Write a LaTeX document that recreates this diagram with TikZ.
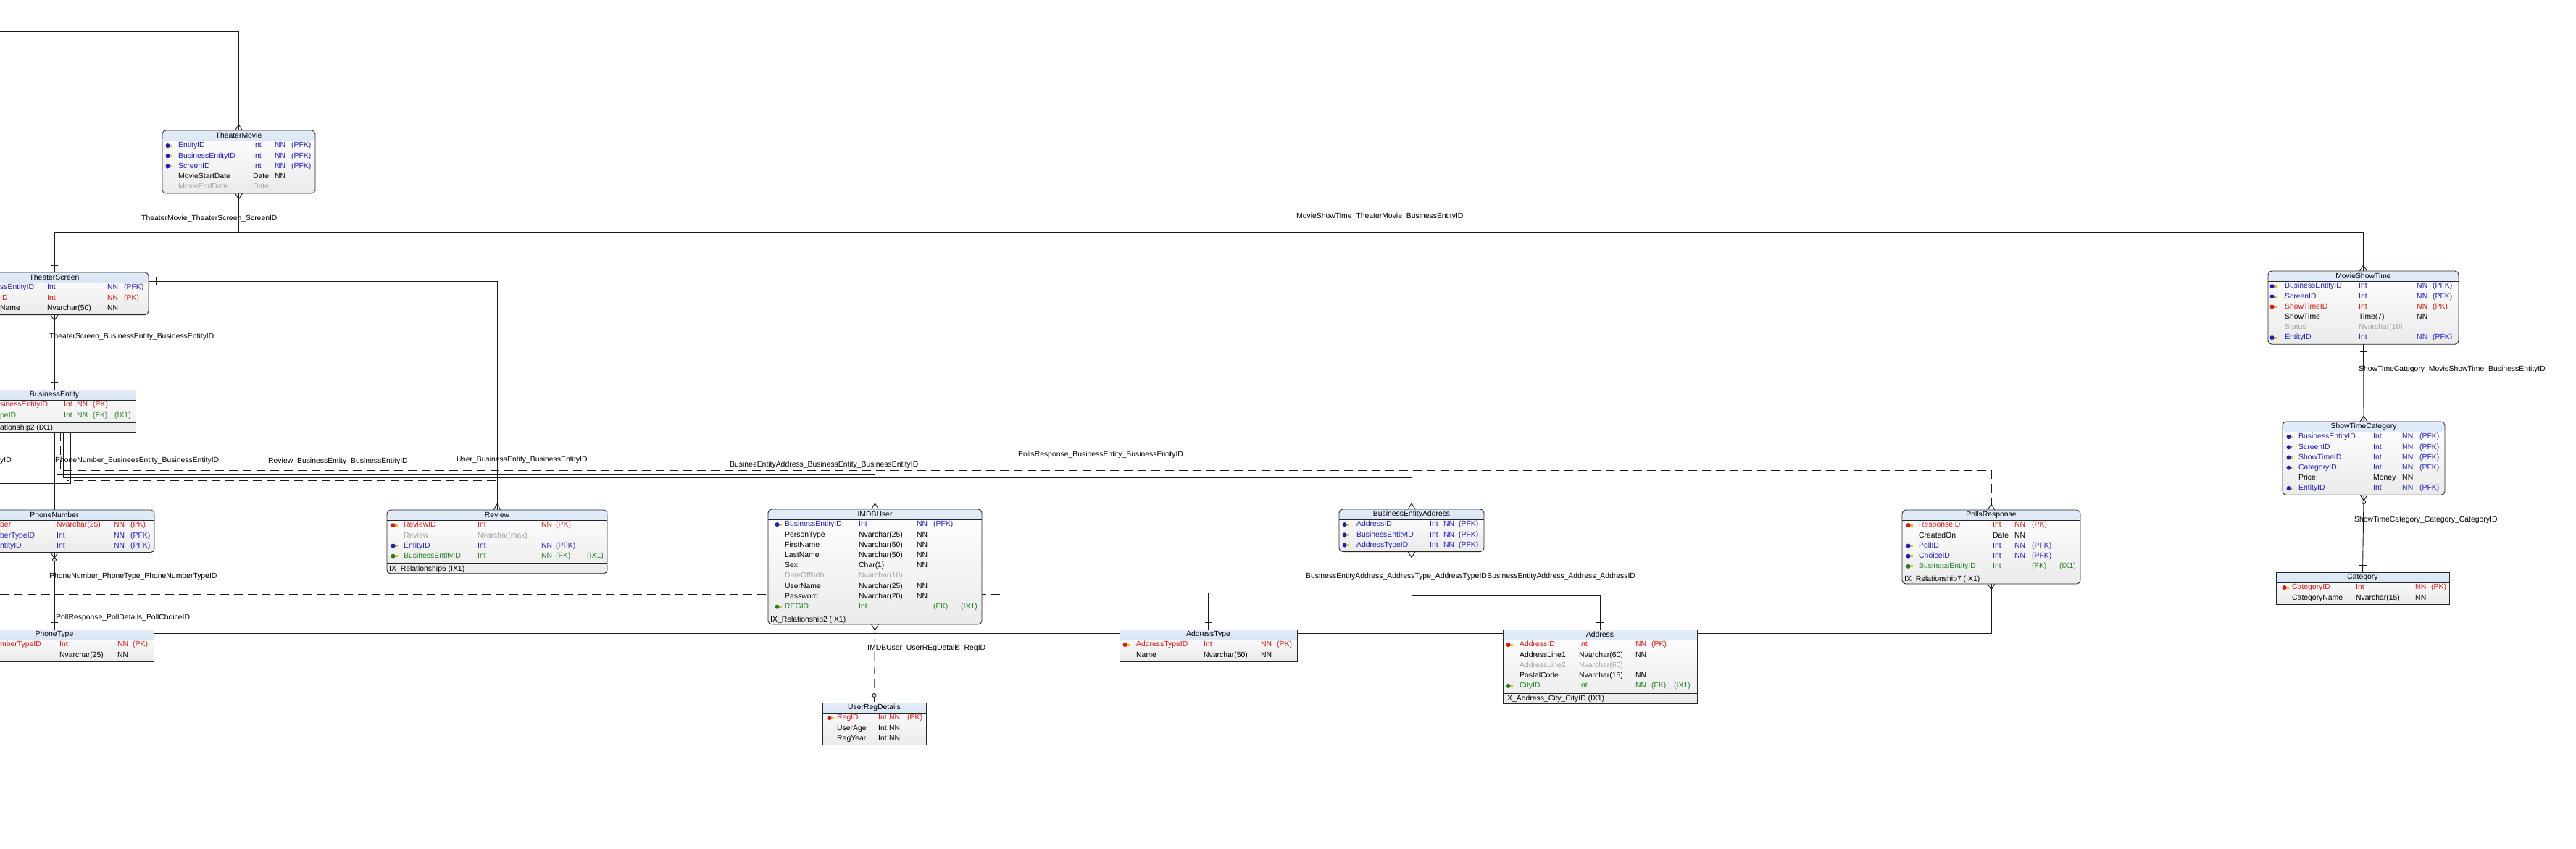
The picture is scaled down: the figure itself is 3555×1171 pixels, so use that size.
\documentclass[tikz,border=0pt]{standalone}
\usepackage{fontspec}
\setmainfont{Liberation Sans}
\usetikzlibrary{calc}
\definecolor{pkred}{RGB}{226,20,20}
\definecolor{fkblue}{RGB}{30,30,200}
\definecolor{fkgreen}{RGB}{30,130,30}
\definecolor{optgray}{RGB}{165,165,165}
\definecolor{titletop}{RGB}{226,236,248}
\definecolor{titlebot}{RGB}{190,212,238}
\definecolor{keygold}{RGB}{232,192,40}
\pgfdeclarelayer{paper}
\pgfdeclarelayer{lines}
\pgfsetlayers{paper,lines,main}
\def\TitleH{14}
\def\RowH{14.2}
\def\FontSz{\fontsize{10.4}{12}\selectfont}

\tikzset{
  erframe/.style={draw=black!85, line width=0.9pt, inner sep=0, outer sep=0,
    top color=white, bottom color=black!8,
    path picture={
      \shade[top color=titletop, bottom color=titlebot]
        (path picture bounding box.north west) rectangle
        ([yshift=-\TitleH pt]path picture bounding box.north east);
      \draw[black!85, line width=0.8pt]
        ([yshift=-\TitleH pt]path picture bounding box.north west) --
        ([yshift=-\TitleH pt]path picture bounding box.north east);}},
  titletext/.style={inner sep=0, font=\FontSz},
  cell/.style={anchor=west, inner sep=0, text height=7.5pt, text depth=2pt, font=\FontSz},
  rel/.style={line width=0.9pt, black!90},
  reldash/.style={rel, dash pattern=on 12pt off 7pt},
  rellabel/.style={anchor=west, inner sep=0, text height=7.5pt, text depth=2pt, font=\FontSz},
  crow/.pic={\draw[rel] (-5,0) -- (0,8) -- (5,0);},
  onebar/.pic={\draw[rel] (-5,10) -- (5,10);},
  zero/.pic={\draw[line width=0.6pt, fill=titlebot] (0,10) circle (2.6);},
  keyicon/.pic={\fill[keygold] (3,-1.5) rectangle (9,1.5);
    \fill[#1] (2.5,0) circle (3);},
}

% table frame: style, name, left, top, right, rows, index line, title
\newcommand{\erbox}[8]{%
  \pgfmathsetmacro\erH{\TitleH+#6*\RowH+2+#7*15}%
  \pgfmathsetmacro\erW{#5-#3}%
  \node[erframe, #1, minimum width=\erW pt, minimum height=\erH pt, anchor=north west] (#2) at (#3,#4) {};%
  \node[titletext] at ($(#2.north)+(0,7)$) {#8};%
  \ifnum#7=1
    \pgfmathsetmacro\erSep{#4+\TitleH+#6*\RowH+3}%
    \draw[line width=0.8pt, black!85] (#3,\erSep) -- (#5,\erSep);%
  \fi
}
% table rows: top, icon x, name x, type x, nn x, key x, ix x, rows
\newcommand{\errows}[8]{%
  \foreach \rc/\rk/\rn/\rt/\rnn/\rkey/\rix [count=\ri] in {#8}{
    \pgfmathsetmacro\ry{#1+\TitleH+7.1+(\ri-1)*\RowH}
    \ifnum\rk=1 \pic at (#2,\ry) {keyicon=\rc}; \fi
    \node[cell, text=\rc] at (#3,\ry) {\rn};
    \node[cell, text=\rc] at (#4,\ry) {\rt};
    \node[cell, text=\rc] at (#5,\ry) {\rnn};
    \node[cell, text=\rc] at (#6,\ry) {\rkey};
    \node[cell, text=\rc] at (#7,\ry) {\rix};
  }
}
% index line text: x, top, rows, text
\newcommand{\erindex}[4]{%
  \pgfmathsetmacro\ry{#2+\TitleH+#3*\RowH+3+7.5}%
  \node[cell] at (#1,\ry) {#4};%
}

\begin{document}
\begin{tikzpicture}[x=1pt,y=-1pt]
  \useasboundingbox (0,0) rectangle (3555,1171);
  \begin{pgfonlayer}{paper}
    \fill[white] (0,0) rectangle (3555,1171);
  \end{pgfonlayer}
  \clip (0,0) rectangle (3555,1171);

  % tables
  \erbox{rounded corners=5pt}{TheaterMovie}{224}{180}{435}{5}{0}{TheaterMovie}
  \errows{180}{229}{246}{349}{379}{402}{420}{
    fkblue/1/EntityID/Int/NN/(PFK)/{},
    fkblue/1/BusinessEntityID/Int/NN/(PFK)/{},
    fkblue/1/ScreenID/Int/NN/(PFK)/{},
    black/0/MovieStartDate/Date/NN/{}/{},
    optgray/0/MovieEndDate/Date/{}/{}/{}}

  \erbox{rounded corners=5pt}{TheaterScreen}{-55}{376}{205}{3}{0}{TheaterScreen}
  \errows{376}{0}{0}{65}{148}{171}{190}{
    fkblue/0/ssEntityID/Int/NN/(PFK)/{},
    pkred/0/ID/Int/NN/(PK)/{},
    black/0/Name/Nvarchar(50)/NN/{}/{}}

  \erbox{}{BusinessEntity}{-37}{538}{187}{2}{1}{BusinessEntity}
  \errows{538}{0}{0}{88}{106}{128}{158}{
    pkred/0/sinessEntityID/Int/NN/(PK)/{},
    fkgreen/0/peID/Int/NN/(FK)/(IX1)}
  \erindex{0}{538}{2}{ationship2 (IX1)}

  \erbox{rounded corners=5pt}{PhoneNumber}{-63}{704}{213}{3}{0}{PhoneNumber}
  \errows{704}{0}{0}{78}{157}{180}{200}{
    pkred/0/ber/Nvarchar(25)/NN/(PK)/{},
    fkblue/0/berTypeID/Int/NN/(PFK)/{},
    fkblue/0/ntityID/Int/NN/(PFK)/{}}

  \erbox{}{PhoneType}{-62}{869}{212}{2}{0}{PhoneType}
  \errows{869}{0}{0}{82}{162}{183}{200}{
    pkred/0/mberTypeID/Int/NN/(PK)/{},
    black/0/{}/Nvarchar(25)/NN/{}/{}}

  \erbox{rounded corners=5pt}{Review}{534}{704}{838}{4}{1}{Review}
  \errows{704}{540}{557}{659}{747}{767}{810}{
    pkred/1/ReviewID/Int/NN/(PK)/{},
    optgray/0/Review/Nvarchar(max)/{}/{}/{},
    fkblue/1/EntityID/Int/NN/(PFK)/{},
    fkgreen/1/BusinessEntityID/Int/NN/(FK)/(IX1)}
  \erindex{537}{704}{4}{IX\_Relationship6 (IX1)}

  \erbox{rounded corners=5pt}{IMDBUser}{1060}{703}{1355}{9}{1}{IMDBUser}
  \errows{703}{1070}{1083}{1185}{1265}{1288}{1326}{
    fkblue/1/BusinessEntityID/Int/NN/(PFK)/{},
    black/0/PersonType/Nvarchar(25)/NN/{}/{},
    black/0/FirstName/Nvarchar(50)/NN/{}/{},
    black/0/LastName/Nvarchar(50)/NN/{}/{},
    black/0/Sex/Char(1)/NN/{}/{},
    optgray/0/DateOfBirth/Nvarchar(10)/{}/{}/{},
    black/0/UserName/Nvarchar(25)/NN/{}/{},
    black/0/Password/Nvarchar(20)/NN/{}/{},
    fkgreen/1/REGID/Int/{}/(FK)/(IX1)}
  \erindex{1063}{703}{9}{IX\_Relationship2 (IX1)}

  \erbox{}{UserRegDetails}{1135}{970}{1278}{3}{0}{UserRegDetails}
  \errows{970}{1142}{1155}{1212}{1227}{1252}{1270}{
    pkred/1/RegID/Int/NN/(PK)/{},
    black/0/UserAge/Int/NN/{}/{},
    black/0/RegYear/Int/NN/{}/{}}

  \erbox{rounded corners=5pt}{BusinessEntityAddress}{1848}{703}{2048}{3}{0}{BusinessEntityAddress}
  \errows{703}{1853}{1872}{1973}{1992}{2013}{2040}{
    fkblue/1/AddressID/Int/NN/(PFK)/{},
    fkblue/1/BusinessEntityID/Int/NN/(PFK)/{},
    fkblue/1/AddressTypeID/Int/NN/(PFK)/{}}

  \erbox{}{AddressType}{1545}{869}{1790}{2}{0}{AddressType}
  \errows{869}{1550}{1568}{1661}{1740}{1762}{1780}{
    pkred/1/AddressTypeID/Int/NN/(PK)/{},
    black/0/Name/Nvarchar(50)/NN/{}/{}}

  \erbox{}{Address}{2074}{869}{2342}{5}{1}{Address}
  \errows{869}{2079}{2097}{2179}{2257}{2279}{2310}{
    pkred/1/AddressID/Int/NN/(PK)/{},
    black/0/AddressLine1/Nvarchar(60)/NN/{}/{},
    optgray/0/AddressLine2/Nvarchar(60)/{}/{}/{},
    black/0/PostalCode/Nvarchar(15)/NN/{}/{},
    fkgreen/1/CityID/Int/NN/(FK)/(IX1)}
  \erindex{2077}{869}{5}{IX\_Address\_City\_CityID (IX1)}

  \erbox{rounded corners=5pt}{PollsResponse}{2625}{704}{2871}{5}{1}{PollsResponse}
  \errows{704}{2631}{2648}{2750}{2780}{2804}{2842}{
    pkred/1/ResponseID/Int/NN/(PK)/{},
    black/0/CreatedOn/Date/NN/{}/{},
    fkblue/1/PollID/Int/NN/(PFK)/{},
    fkblue/1/ChoiceID/Int/NN/(PFK)/{},
    fkgreen/1/BusinessEntityID/Int/{}/(FK)/(IX1)}
  \erindex{2628}{704}{5}{IX\_Relationship7 (IX1)}

  \erbox{rounded corners=5pt}{MovieShowTime}{3130}{374}{3393}{6}{0}{MovieShowTime}
  \errows{374}{3133}{3153}{3255}{3335}{3357}{3380}{
    fkblue/1/BusinessEntityID/Int/NN/(PFK)/{},
    fkblue/1/ScreenID/Int/NN/(PFK)/{},
    pkred/1/ShowTimeID/Int/NN/(PK)/{},
    black/0/ShowTime/Time(7)/NN/{}/{},
    optgray/0/Status/Nvarchar(10)/{}/{}/{},
    fkblue/1/EntityID/Int/NN/(PFK)/{}}

  \erbox{rounded corners=5pt}{ShowTimeCategory}{3150}{582}{3374}{6}{0}{ShowTimeCategory}
  \errows{582}{3156}{3172}{3275}{3315}{3339}{3360}{
    fkblue/1/BusinessEntityID/Int/NN/(PFK)/{},
    fkblue/1/ScreenID/Int/NN/(PFK)/{},
    fkblue/1/ShowTimeID/Int/NN/(PFK)/{},
    fkblue/1/CategoryID/Int/NN/(PFK)/{},
    black/0/Price/Money/NN/{}/{},
    fkblue/1/EntityID/Int/NN/(PFK)/{}}

  \erbox{}{Category}{3141}{790}{3380}{2}{0}{Category}
  \errows{790}{3150}{3163}{3251}{3333}{3355}{3370}{
    pkred/1/CategoryID/Int/NN/(PK)/{},
    black/0/CategoryName/Nvarchar(15)/NN/{}/{}}

  % relationships
  \begin{pgfonlayer}{lines}
  \clip (0,0) rectangle (3555,1171);
  \coordinate (offTop) at (0,43);
  \coordinate (screenRow) at (0,320);
  \coordinate (reviewRow) at (0,388);
  \coordinate (pollsBus) at (0,649);
  \coordinate (userBus) at (0,655);
  \coordinate (addrBus) at (0,659);
  \coordinate (reviewBus) at (0,663);
  \coordinate (leftBus) at (0,667);
  \coordinate (typeRow) at (0,818);
  \coordinate (addrRow) at (0,822);
  \coordinate (offDash) at (0,820);
  \coordinate (dashEnd) at (1385,820);
  \coordinate (pollRow) at (0,874);

  \draw[rel] (offTop) -| (TheaterMovie.north);
  \draw[rel] (TheaterMovie.south) -- (TheaterMovie.south |- screenRow) -| (TheaterScreen.north);
  \draw[rel] (TheaterMovie.south |- screenRow) -| (MovieShowTime.north);
  \draw[rel] (TheaterScreen.south) -- (BusinessEntity.north);
  \draw[rel] (TheaterScreen.east |- reviewRow) -| (Review.north);
  \draw[rel] (BusinessEntity.south) -- (PhoneNumber.north);
  \draw[rel] ($(BusinessEntity.south)+(3,0)$) |- (userBus -| IMDBUser.north) -- (IMDBUser.north);
  \draw[reldash] ($(BusinessEntity.south)+(8,0)$) |- (pollsBus -| PollsResponse.north) -- (PollsResponse.north);
  \draw[rel] ($(BusinessEntity.south)+(12,0)$) |- (addrBus -| BusinessEntityAddress.north) -- (BusinessEntityAddress.north);
  \draw[reldash] ($(BusinessEntity.south)+(17,0)$) |- (reviewBus -| Review.north) -- (Review.north);
  \draw[rel] ($(BusinessEntity.south)+(22,0)$) |- (leftBus);
  \draw[rel] (PhoneNumber.south) -- (PhoneType.north);
  \draw[reldash] (offDash) -- (dashEnd);
  \draw[rel] (PollsResponse.south) |- (pollRow);
  \draw[reldash] (IMDBUser.south) -- (UserRegDetails.north);
  \draw[rel] (BusinessEntityAddress.south) -- (BusinessEntityAddress.south |- typeRow) -| (AddressType.north);
  \draw[rel] (BusinessEntityAddress.south |- addrRow) -| (Address.north);
  \draw[rel] (MovieShowTime.south) -- (ShowTimeCategory.north);
  \draw[rel] (ShowTimeCategory.south) -- (Category.north);

  % ends
  \foreach \tbl in {TheaterMovie,Review,IMDBUser,BusinessEntityAddress,PollsResponse,MovieShowTime,ShowTimeCategory}
    \pic[rotate=180] at (\tbl.north) {crow};
  \foreach \tbl in {TheaterScreen,BusinessEntity,PhoneType,AddressType,Address,Category}
    \pic[rotate=180] at (\tbl.north) {onebar};
  \pic[rotate=180] at (UserRegDetails.north) {zero};
  \foreach \tbl in {TheaterMovie,TheaterScreen,PhoneNumber,IMDBUser,BusinessEntityAddress,PollsResponse,ShowTimeCategory}
    \pic at (\tbl.south) {crow};
  \foreach \tbl in {TheaterMovie,MovieShowTime}
    \pic at (\tbl.south) {onebar};
  \foreach \tbl in {PhoneNumber,ShowTimeCategory}
    \pic at (\tbl.south) {zero};
  \pic[rotate=90] at (TheaterScreen.east |- reviewRow) {onebar};
  \end{pgfonlayer}

  % labels
  \node[rellabel] (lblScreen) at (195,302) {TheaterMovie\_TheaterScreen\_ScreenID};
  \node[rellabel] (lblShow) at (1789,299) {MovieShowTime\_TheaterMovie\_BusinessEntityID};
  \node[rellabel] (lblBusiness) at (68,465) {TheaterScreen\_BusinessEntity\_BusinessEntityID};
  \node[rellabel] (lblCatShow) at (3255,510) {ShowTimeCategory\_MovieShowTime\_BusinessEntityID};
  \node[rellabel] (lblCut) at (0,636) {yID};
  \node[rellabel] (lblPhone) at (76,636) {PhoneNumber\_BusineesEntity\_BusinessEntityID};
  \node[rellabel] (lblReview) at (370,637) {Review\_BusinessEntity\_BusinessEntityID};
  \node[rellabel] (lblUser) at (630,635) {User\_BusinessEntity\_BusinessEntityID};
  \node[rellabel] (lblAddrBus) at (1007,642) {BusineeEntityAddress\_BusinessEntity\_BusinessEntityID};
  \node[rellabel] (lblPolls) at (1405,628) {PollsResponse\_BusinessEntity\_BusinessEntityID};
  \node[rellabel] (lblAddrType) at (1802,796) {BusinessEntityAddress\_AddressType\_AddressTypeID};
  \node[rellabel, anchor=west] (lblAddr) at (lblAddrType.east) {BusinessEntityAddress\_Address\_AddressID};
  \node[rellabel] (lblPhoneType) at (68,796) {PhoneNumber\_PhoneType\_PhoneNumberTypeID};
  \node[rellabel] (lblPoll) at (77,853) {PollResponse\_PollDetails\_PollChoiceID};
  \node[rellabel] (lblReg) at (1197,895) {IMDBUser\_UserREgDetails\_RegID};
  \node[rellabel] (lblCat) at (3249,718) {ShowTimeCategory\_Category\_CategoryID};
\end{tikzpicture}
\end{document}
